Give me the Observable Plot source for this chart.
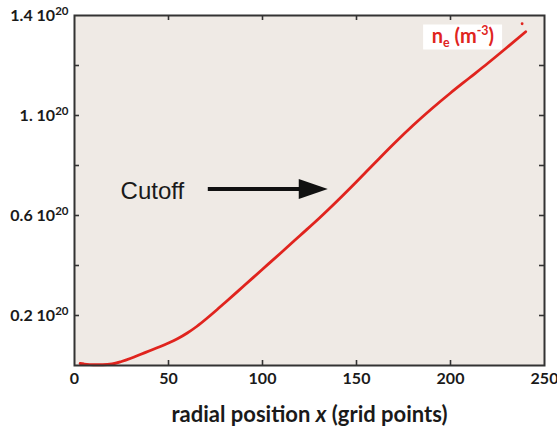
<!DOCTYPE html>
<html>
<head>
<meta charset="utf-8">
<script src="https://cdn.jsdelivr.net/npm/d3@7"></script>
<script src="https://cdn.jsdelivr.net/npm/@observablehq/plot@0.6"></script>
<style>
  html, body { margin: 0; padding: 0; background: #ffffff; }
  #chart svg { display: block; }
</style>
</head>
<body>
<div id="chart"></div>
<script>
// ---- data ----
const xPos   = [3, 5, 10, 15, 20, 25, 30, 35, 40, 45, 50, 55, 60, 65, 70, 75, 80, 90, 100, 110, 120, 130, 140, 150, 160, 170, 180, 190, 200, 210, 220, 230, 240];
const neVals = [0.008, 0.006, 0.003, 0.003, 0.006, 0.016, 0.029, 0.044, 0.059, 0.074, 0.09, 0.108, 0.13, 0.156, 0.186, 0.218, 0.251, 0.318, 0.385, 0.452, 0.52, 0.588, 0.66, 0.735, 0.812, 0.888, 0.96, 1.027, 1.09, 1.15, 1.21, 1.272, 1.335]; // units of 1e20 m^-3

const xTickVals = [0, 50, 100, 150, 200, 250];
const xInnerTicks = [50, 100, 150, 200];
const yInnerTicks = [0.2, 0.4, 0.6, 0.8, 1.0, 1.2];
const yLabelVals = [0.2, 0.6, 1.0, 1.4];
const yLabelMantissa = ["0.2", "0.6", "1.", "1.4"];
const yExponent = "20";
const xTitle = "radial position *x* (grid points)";
const seriesLabel = "n_{e} (m^{-3})";
const annotationText = "Cutoff";

// annotation anchors (data coordinates)
const cutoffText = {x: 24.5, y: 0.697};
const arrowShaft = {x1: 70.9, x2: 122, y: 0.706};
const arrowHead = {x: 127, y: 0.706};
const endMarker = {x: 238.1, y: 1.367};
const legendBox = {x1: 185.7, x2: 227.7, y1: 1.262, y2: 1.362};
const legendText = {x: 190.0, y: 1.292};

// ---- layout / style ----
const W = 557, H = 428, mt = 15, mb = 63, ml = 74, mr = 13;
const frameH = H - mt - mb, frameW = W - ml - mr, tickLen = 5;
const red = "#e0241e";

const rows = xPos.map((x, i) => ({x, ne: neVals[i]}));

const headSymbol = {
  draw(context, size) {
    const r = Math.sqrt(size / Math.PI);
    context.moveTo(1.45 * r, 0);
    context.lineTo(-1.45 * r, -r);
    context.lineTo(-1.45 * r, r);
    context.closePath();
  }
};

const chart = Plot.plot({
  width: W, height: H,
  marginTop: mt, marginBottom: mb, marginLeft: ml, marginRight: mr,
  x: {domain: [0, 250]},
  y: {domain: [0, 1.4]},
  style: {background: "#ffffff", fontFamily: "Lato, 'Open Sans', sans-serif", fontWeight: "bold", color: "#1a1a1a"},
  marks: [
    Plot.frame({fill: "#efeae5", stroke: null}),
    Plot.line(rows, {x: "x", y: "ne", stroke: red, strokeWidth: 2.8, curve: "monotone-x"}),
    Plot.dot([endMarker], {x: "x", y: "y", r: 1.4, fill: red, stroke: null}),
    Plot.rect([legendBox], {x1: "x1", x2: "x2", y1: "y1", y2: "y2", fill: "#ffffff"}),
    Plot.text([seriesLabel], {x: legendText.x, y: legendText.y, text: d => d, textAnchor: "start", lineAnchor: "bottom", fontSize: 20, fontWeight: "bold", fill: red, fontFamily: "Lato, sans-serif"}),
    Plot.text([annotationText], {x: cutoffText.x, y: cutoffText.y, text: d => d, textAnchor: "start", lineAnchor: "middle", fontSize: 24, fontWeight: "normal", fill: "#1a1a1a", fontFamily: "'Liberation Sans', Arial, sans-serif"}),
    Plot.link([arrowShaft], {x1: "x1", x2: "x2", y1: "y", y2: "y", stroke: "#111", strokeWidth: 4}),
    Plot.dot([arrowHead], {x: "x", y: "y", r: 10, symbol: headSymbol, fill: "#111", stroke: null}),
    // inward ticks (bottom, top, left, right)
    Plot.tickX(xInnerTicks, {x: d => d, stroke: "#333", strokeWidth: 1.6, insetTop: frameH - tickLen}),
    Plot.tickX(xInnerTicks, {x: d => d, stroke: "#333", strokeWidth: 1.6, insetBottom: frameH - tickLen}),
    Plot.tickY(yInnerTicks, {y: d => d, stroke: "#333", strokeWidth: 1.6, insetRight: frameW - tickLen}),
    Plot.tickY(yInnerTicks, {y: d => d, stroke: "#333", strokeWidth: 1.6, insetLeft: frameW - tickLen}),
    Plot.frame({stroke: "#333", strokeWidth: 2}),
    Plot.axisX({ticks: xTickVals, tickSize: 0, tickPadding: 7, label: null, fontSize: 16, fontWeight: "bold"}),
    Plot.axisY({ticks: yLabelVals, tickSize: 0, tickPadding: 6, label: null, fontSize: 16, fontWeight: "bold",
      tickFormat: d => yLabelMantissa[yLabelVals.findIndex(v => Math.abs(v - d) < 1e-9)] + " 10^{" + yExponent + "}"}),
    Plot.text([xTitle], {frameAnchor: "bottom", dy: 56, text: d => d, lineAnchor: "bottom", fontSize: 22, fontWeight: "bold", fill: "#1a1a1a", fontFamily: "Lato, sans-serif"})
  ]
});

document.getElementById("chart").appendChild(chart);

// rich text: _{sub}, ^{sup}, *italic*
function richText(el, markup, fs, ratio = 0.72) {
  const parts = markup.split(/(_\{[^}]*\}|\^\{[^}]*\}|\*[^*]*\*)/).filter(s => s.length);
  while (el.firstChild) el.removeChild(el.firstChild);
  let shift = 0;
  for (const p of parts) {
    const t = document.createElementNS("http://www.w3.org/2000/svg", "tspan");
    let s = 0, txt = p;
    if (p.startsWith("_{")) { s = 0.2 * fs; txt = p.slice(2, -1); t.setAttribute("font-size", ratio * fs); }
    else if (p.startsWith("^{")) { s = -0.38 * fs; txt = p.slice(2, -1); t.setAttribute("font-size", ratio * fs); }
    else if (p.startsWith("*")) { txt = p.slice(1, -1); t.setAttribute("font-style", "italic"); }
    if (s !== shift) t.setAttribute("dy", s - shift);
    shift = s;
    t.textContent = txt;
    el.appendChild(t);
  }
}

chart.querySelectorAll("text").forEach(el => {
  const s = el.textContent;
  if (el.children.length) return;
  if (s === seriesLabel) richText(el, s, 20, 0.62);
  else if (s === xTitle) richText(el, s, 22);
  else if (s.includes("^{")) richText(el, s, 16);
});
</script>
</body>
</html>
